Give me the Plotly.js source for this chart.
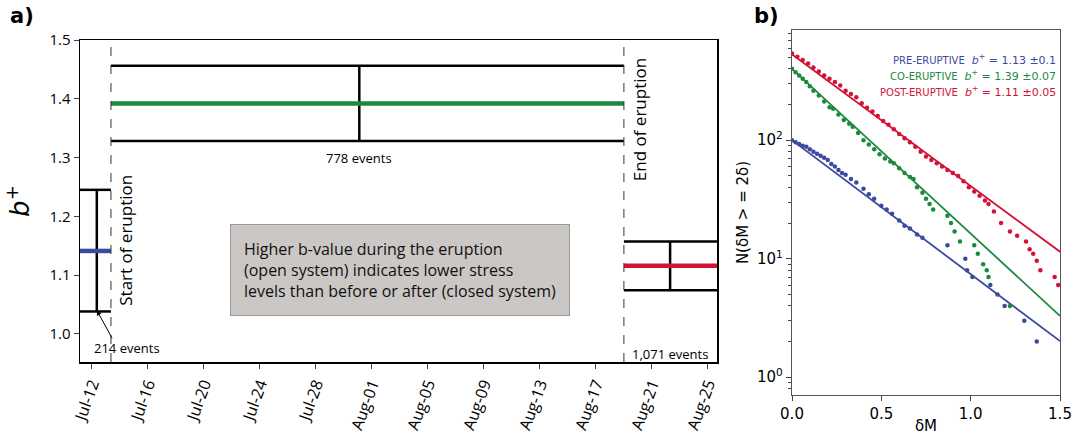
<!DOCTYPE html>
<html><head><meta charset="utf-8">
<script src="https://cdn.plot.ly/plotly-3.0.1.min.js"></script>
<style>body{margin:0;background:#fff}</style></head>
<body><div id="chart" style="width:1088px;height:435px"></div>
<script>
// panel a: b+ per period
const periods = ['pre', 'co', 'post'];
const pStart = ['2011-07-11 03:36', '2011-07-13 08:40', '2011-08-19 00:00'];
const pEnd = ['2011-07-13 08:40', '2011-08-19 00:00', '2011-08-25 15:36'];
const pMid = ['2011-07-12 08:24', '2011-07-31 02:24', '2011-08-22 07:12'];
const bVal = [1.141, 1.392, 1.116];
const bLo = [1.038, 1.328, 1.074];
const bHi = [1.245, 1.456, 1.157];
const colors = ['#3b4a9e', '#1b8a3e', '#d21236'];
const eruptStart = '2011-07-13 08:40';
const eruptEnd = '2011-08-19 00:00';

// panel b: magnitude-difference distributions
const preX = [0, 0.02, 0.04, 0.06, 0.08, 0.1, 0.12, 0.14, 0.16, 0.18, 0.2, 0.22, 0.24, 0.26, 0.28, 0.3, 0.33, 0.36, 0.4, 0.43, 0.46, 0.5, 0.53, 0.56, 0.6, 0.63, 0.66, 0.7, 0.73, 0.87, 0.97, 0.98, 1.01, 1.11, 1.15, 1.19, 1.3, 1.37];
const preN = [100, 96, 93, 90, 88, 84, 80, 77, 74, 71, 68, 63, 60, 56, 53, 51, 47, 44, 39, 35, 32, 28, 26, 24, 21, 19, 18, 16, 15, 13, 10, 8, 7, 6, 5, 4, 3, 2];
const coX = [0, 0.02, 0.04, 0.06, 0.08, 0.1, 0.12, 0.15, 0.18, 0.21, 0.23, 0.26, 0.29, 0.32, 0.34, 0.37, 0.4, 0.43, 0.46, 0.49, 0.52, 0.55, 0.57, 0.6, 0.63, 0.66, 0.68, 0.7, 0.73, 0.75, 0.77, 0.79, 0.87, 0.89, 0.91, 0.94, 1.02, 1.04, 1.07, 1.09, 1.1, 1.22];
const coN = [400, 375, 352, 330, 310, 285, 262, 238, 212, 190, 184, 165, 148, 138, 130, 115, 100, 92, 84, 76, 70, 66, 64, 58, 53, 49, 47, 40, 36, 32, 29, 26, 23, 20, 17, 14, 13, 11, 9, 8, 7, 4];
const postX = [0, 0.03, 0.06, 0.09, 0.12, 0.15, 0.18, 0.21, 0.24, 0.27, 0.3, 0.33, 0.36, 0.39, 0.42, 0.45, 0.48, 0.51, 0.54, 0.57, 0.6, 0.63, 0.66, 0.69, 0.72, 0.75, 0.78, 0.81, 0.84, 0.87, 0.9, 0.93, 0.96, 0.99, 1.02, 1.05, 1.08, 1.1, 1.13, 1.17, 1.22, 1.26, 1.31, 1.33, 1.35, 1.37, 1.39, 1.47, 1.49];
const postN = [540, 505, 475, 445, 410, 380, 352, 330, 310, 290, 262, 245, 230, 205, 188, 175, 160, 145, 135, 124, 113, 104, 96, 88, 80, 73, 68, 64, 60, 56, 53, 50, 45, 40, 37, 34, 31, 29, 25, 20, 17, 15.6, 14, 12, 11, 9.6, 8, 7, 6];
const fitA = [100, 400, 530];
const fitB = [1.13, 1.39, 1.11];
const legendTxt = ['PRE-ERUPTIVE', 'CO-ERUPTIVE', 'POST-ERUPTIVE'];
const legendVal = ['1.13 ±0.1', '1.39 ±0.07', '1.11 ±0.05'];

const traces = [];
periods.forEach((p, i) => {
  [bLo[i], bHi[i]].forEach(v => traces.push({x: [pStart[i], pEnd[i]], y: [v, v], mode: 'lines',
    line: {color: '#000', width: 2.5}, xaxis: 'x', yaxis: 'y', hoverinfo: 'skip'}));
  traces.push({x: [pMid[i], pMid[i]], y: [bLo[i], bHi[i]], mode: 'lines',
    line: {color: '#000', width: 2.5}, xaxis: 'x', yaxis: 'y'});
  traces.push({x: [pStart[i], pEnd[i]], y: [bVal[i], bVal[i]], mode: 'lines',
    line: {color: colors[i], width: 4.5}, xaxis: 'x', yaxis: 'y'});
});
const pts = [[preX, preN], [coX, coN], [postX, postN]];
pts.forEach((d, i) => {
  traces.push({x: [0, 1.5], y: [fitA[i], fitA[i] * Math.pow(10, -fitB[i] * 1.5)], mode: 'lines',
    line: {color: colors[i], width: 1.8}, xaxis: 'x2', yaxis: 'y2'});
  traces.push({x: d[0], y: d[1], mode: 'markers', marker: {color: colors[i], size: 4.5},
    xaxis: 'x2', yaxis: 'y2'});
});

const F = 'Open Sans, Noto Sans, sans-serif';
const ann = [
  {text: '<b>a)</b>', x: 8, y: 16},
  {text: '<b>b)</b>', x: 752, y: 16}
].map(a => ({text: a.text, xref: 'paper', yref: 'paper', x: a.x / 1088, y: 1 - a.y / 435,
  xanchor: 'left', yanchor: 'middle', showarrow: false, font: {family: 'DejaVu Sans', size: 21, color: '#000'}}));
ann.push(
  {text: 'Start of eruption', x: eruptStart, y: 1.16, xref: 'x', yref: 'y', xshift: 15, textangle: -90,
    showarrow: false, font: {family: F, size: 17, color: '#000'}},
  {text: 'End of eruption', x: eruptEnd, y: 1.365, xref: 'x', yref: 'y', xshift: 15, textangle: -90,
    showarrow: false, font: {family: F, size: 17, color: '#000'}},
  {text: '778 events', x: pMid[1], y: 1.3, xref: 'x', yref: 'y', showarrow: false, font: {family: F, size: 13, color: '#000'}},
  {text: '214 events', x: '2011-07-14 12:00', y: 0.975, xref: 'x', yref: 'y', showarrow: false, font: {family: F, size: 13, color: '#000'}},
  {text: '1,071 events', x: pMid[2], y: 0.965, xref: 'x', yref: 'y', showarrow: false, font: {family: F, size: 13, color: '#000'}},
  {text: '', x: pMid[0], y: 1.04, xref: 'x', yref: 'y', ax: '2011-07-13 12:00', ay: 0.99, axref: 'x', ayref: 'y',
    showarrow: true, arrowhead: 2, arrowsize: 1, arrowwidth: 1, arrowcolor: '#000'},
  {text: 'Higher b-value during the eruption<br>(open system) indicates lower stress<br>levels than before or after (closed system)',
    x: '2011-08-03 00:00', y: 1.109, xref: 'x', yref: 'y', showarrow: false, align: 'left',
    bgcolor: '#cbc7c5', bordercolor: '#999', borderwidth: 1, borderpad: 13,
    font: {family: F, size: 16, color: '#111'}}
);
legendTxt.forEach((t, i) => ann.push({
  text: '<span style="font-size:10px">' + t + '</span>  <i>b</i><sup>+</sup> = ' + legendVal[i],
  xref: 'paper', yref: 'paper', x: 1058 / 1088, y: 1 - (59 + i * 16) / 435, xanchor: 'right', yanchor: 'middle',
  showarrow: false, font: {family: 'DejaVu Sans', size: 11, color: colors[i]}}));

const layout = {
  width: 1088, height: 435, margin: {l: 0, r: 0, t: 0, b: 0}, showlegend: false,
  plot_bgcolor: '#fff', paper_bgcolor: '#fff', font: {family: F, color: '#000'},
  xaxis: {domain: [80 / 1088, 717 / 1088], type: 'date', range: [pStart[0], pEnd[2]],
    tick0: '2011-07-12', dtick: 4 * 86400000, tickformat: '%b-%d', tickangle: -70,
    ticks: 'outside', ticklen: 5, showgrid: false, zeroline: false, showline: true, mirror: true,
    linecolor: '#000', linewidth: 1.5, tickfont: {size: 16, family: F}, anchor: 'y'},
  yaxis: {domain: [1 - 362 / 435, 1 - 40 / 435], range: [0.952, 1.5], dtick: 0.1, tickformat: '.1f',
    ticks: 'outside', ticklen: 5, showgrid: false, zeroline: false, showline: true, mirror: true,
    linecolor: '#000', linewidth: 1.5, tickfont: {size: 15, family: F}, anchor: 'x',
    title: {text: '<i>b</i><sup>+</sup>', font: {size: 26, family: 'DejaVu Sans'}, standoff: 12}},
  xaxis2: {domain: [792 / 1088, 1060 / 1088], range: [0, 1.5], dtick: 0.5, tickformat: '.1f',
    ticks: 'outside', ticklen: 5, showgrid: false, zeroline: false, showline: true, mirror: true,
    linecolor: '#555', linewidth: 1.2, tickfont: {size: 15, family: 'DejaVu Sans'}, anchor: 'y2',
    title: {text: 'δM', font: {size: 15, family: 'DejaVu Sans'}, standoff: 2}},
  yaxis2: {domain: [1 - 395 / 435, 1 - 30 / 435], type: 'log', range: [-0.15, 2.93],
    tickvals: [1, 10, 100], ticktext: ['10<sup>0</sup>', '10<sup>1</sup>', '10<sup>2</sup>'],
    ticks: 'outside', ticklen: 5, showgrid: false, zeroline: false, showline: true, mirror: true,
    linecolor: '#555', linewidth: 1.2, tickfont: {size: 15, family: 'DejaVu Sans'}, anchor: 'x2',
    minor: {ticks: 'outside', ticklen: 3, dtick: 'D1'},
    title: {text: 'N(δM > = 2δ)', font: {size: 15, family: 'DejaVu Sans'}, standoff: 4}},
  shapes: [eruptStart, eruptEnd].map(d => ({type: 'line', xref: 'x', yref: 'y domain', x0: d, x1: d, y0: 0, y1: 1,
    line: {color: '#333', width: 1, dash: 'dash'}})),
  annotations: ann
};
Plotly.newPlot('chart', traces, layout, {staticPlot: true});
</script></body></html>
